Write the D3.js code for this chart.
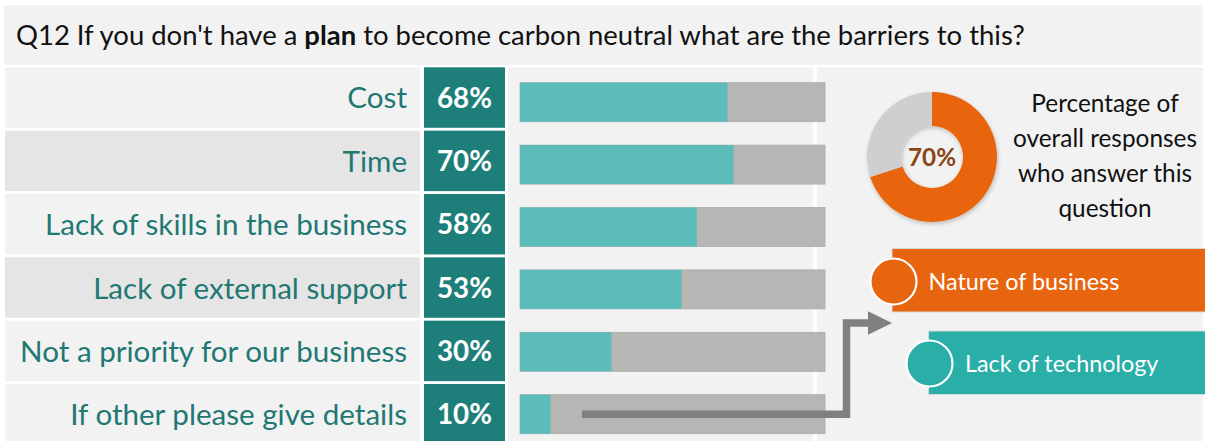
<!DOCTYPE html>
<html>
<head>
<meta charset="utf-8">
<script src="https://cdn.jsdelivr.net/npm/d3@7"></script>
<style>
  html, body { margin: 0; padding: 0; background: #ffffff; }
  svg { display: block; font-family: "Lato", "Open Sans", sans-serif; }
</style>
</head>
<body>
<div id="chart"></div>
<script>
// ---------- data ----------
const categories = [
  "Cost",
  "Time",
  "Lack of skills in the business",
  "Lack of external support",
  "Not a priority for our business",
  "If other please give details"
];
const values = [68, 70, 58, 53, 30, 10];
const titleParts = [
  { text: "Q12 If you don't have a ", bold: false },
  { text: "plan", bold: true },
  { text: " to become carbon neutral what are the barriers to this?", bold: false }
];
const answeredLabels = ["Answered", "Not answered"];
const answeredValues = [70, 30];
const captionLines = ["Percentage of", "overall responses", "who answer this", "question"];
const otherResponses = ["Nature of business", "Lack of technology"];

// ---------- styles ----------
const W = 1205, H = 441;
const C = {
  panel: "#f2f2f2",
  panelDark: "#e5e5e5",
  pctCell: "#1e7f7a",
  labelText: "#1f7872",
  teal: "#5bbcb9",
  grey: "#b7b6b4",
  connector: "#808080",
  orange: "#e8650f",
  donutGrey: "#d0cfd0",
  donutText: "#8a4515",
  legendTeal: "#29aea8"
};

const svg = d3.select("#chart").append("svg")
  .attr("width", W).attr("height", H);

const defs = svg.append("defs");
const sh = defs.append("filter").attr("id", "shadow")
  .attr("x", "-20%").attr("y", "-20%").attr("width", "140%").attr("height", "140%");
sh.append("feDropShadow").attr("dx", 1).attr("dy", 2).attr("stdDeviation", 2)
  .attr("flood-color", "#000").attr("flood-opacity", 0.22);

function fitWidth(sel, target) {
  const w = sel.node().getComputedTextLength();
  const fs = parseFloat(sel.attr("font-size"));
  const nfs = fs * target / w;
  sel.attr("font-size", nfs);
  return nfs;
}

// ---------- title ----------
svg.append("rect").attr("x", 4).attr("y", 5).attr("width", 1199).attr("height", 60).attr("fill", C.panel);
const title = svg.append("text").attr("x", 16).attr("y", 45)
  .attr("font-size", 22).attr("fill", "#111");
title.selectAll("tspan").data(titleParts).join("tspan")
  .attr("font-weight", d => d.bold ? "bold" : "normal")
  .text(d => d.text);
fitWidth(title, 1009);

// ---------- scales ----------
const rowY = d3.scaleBand().domain(categories).range([67.3, 444.5]).paddingInner(0.045).paddingOuter(0);
const barY = d3.scaleBand().domain(categories).range([82.7, 433.7]).paddingInner(0.375).paddingOuter(0);
const x = d3.scaleLinear().domain([0, 100]).range([520, 825]);

// ---------- panels ----------
svg.append("rect").attr("x", 508).attr("y", 67.3).attr("width", 305).attr("height", H - 67.3).attr("fill", C.panel);
svg.append("rect").attr("x", 817).attr("y", 67.3).attr("width", 386).attr("height", H - 67.3).attr("fill", C.panel);

// label cells
const rows = svg.append("g").selectAll("g").data(categories).join("g");
rows.append("rect")
  .attr("x", 5).attr("y", d => rowY(d)).attr("width", 415).attr("height", rowY.bandwidth())
  .attr("fill", (d, i) => (i === 1 || i === 3) ? C.panelDark : C.panel);
rows.append("rect")
  .attr("x", 424).attr("y", d => rowY(d)).attr("width", 81).attr("height", rowY.bandwidth())
  .attr("fill", C.pctCell);

const labels = rows.append("text")
  .attr("x", 407).attr("text-anchor", "end")
  .attr("fill", C.labelText).attr("font-size", 26)
  .text(d => d);
const probe = labels.filter((d, i) => i === 4);
const lfs = fitWidth(probe, 387);
labels.attr("font-size", lfs)
  .attr("y", d => rowY(d) + rowY.bandwidth() / 2 + lfs * 0.37);

const pctText = rows.append("text")
  .attr("x", 464.5).attr("text-anchor", "middle")
  .attr("fill", "#ffffff").attr("font-weight", "bold").attr("font-size", 28)
  .text((d, i) => values[i] + "%");
const pfs = fitWidth(pctText.filter((d, i) => i === 0), 55);
pctText.attr("font-size", pfs)
  .attr("y", d => rowY(d) + rowY.bandwidth() / 2 + pfs * 0.36);

// ---------- bars ----------
const bars = svg.append("g").selectAll("g").data(categories).join("g");
bars.append("rect")
  .attr("x", x(0)).attr("y", d => barY(d))
  .attr("width", x(100) - x(0)).attr("height", barY.bandwidth())
  .attr("fill", C.grey).attr("stroke", "#acabaa").attr("stroke-width", 0.8);
bars.append("rect")
  .attr("x", x(0)).attr("y", d => barY(d))
  .attr("width", (d, i) => x(values[i]) - x(0)).attr("height", barY.bandwidth())
  .attr("fill", C.teal);

// ---------- connector arrow ----------
const last = categories[categories.length - 1];
const cy0 = barY(last) + barY.bandwidth() / 2;
const elbowX = 846.5, topY = 323;
svg.append("path")
  .attr("d", `M${x(20.3)},${cy0} H${elbowX} V${topY} H${869}`)
  .attr("fill", "none").attr("stroke", C.connector).attr("stroke-width", 7.5)
  .attr("stroke-linejoin", "miter");
svg.append("path")
  .attr("d", `M868,${topY - 11.7} L892,${topY} L868,${topY + 11.7} Z`)
  .attr("fill", C.connector);

// ---------- donut ----------
const pie = d3.pie().sort(null)(answeredValues);
const arc = d3.arc().innerRadius(31).outerRadius(65);
const dg = svg.append("g").attr("transform", "translate(932,157)");
dg.append("g").attr("filter", "url(#shadow)")
  .selectAll("path").data(pie).join("path")
  .attr("d", arc)
  .attr("fill", (d, i) => i === 0 ? C.orange : C.donutGrey);
const dt = dg.append("text").attr("text-anchor", "middle")
  .attr("font-weight", "bold").attr("font-size", 24).attr("fill", C.donutText)
  .text(answeredValues[0] + "%");
const dfs = fitWidth(dt, 48);
dt.attr("y", dfs * 0.36);

// caption
const cap = svg.append("g").selectAll("text").data(captionLines).join("text")
  .attr("x", 1105).attr("text-anchor", "middle")
  .attr("fill", "#111").attr("font-size", 22)
  .text(d => d);
const cfs = fitWidth(cap.filter((d, i) => i === 1), 184);
cap.attr("font-size", cfs)
  .attr("y", (d, i) => 103 + i * 35 + cfs * 0.36);

// ---------- other responses legend ----------
const legendPos = [
  { x: 892, y: 248.5, h: 63.5, cx: 893.5, cy: 281.5, tx: 928.5 },
  { x: 928.5, y: 331, h: 63.5, cx: 929.5, cy: 363.5, tx: 965 }
];
const legColors = [C.orange, C.legendTeal];
const lg = svg.append("g").selectAll("g").data(otherResponses).join("g");
lg.append("rect")
  .attr("x", (d, i) => legendPos[i].x).attr("y", (d, i) => legendPos[i].y)
  .attr("width", (d, i) => W + 2 - legendPos[i].x).attr("height", (d, i) => legendPos[i].h)
  .attr("fill", (d, i) => legColors[i])
  .attr("stroke", "#d9d9d9").attr("stroke-width", 1);
lg.append("circle")
  .attr("cx", (d, i) => legendPos[i].cx).attr("cy", (d, i) => legendPos[i].cy)
  .attr("r", 23).attr("fill", (d, i) => legColors[i])
  .attr("stroke", "#ffffff").attr("stroke-width", 2.2);
const lt = lg.append("text")
  .attr("x", (d, i) => legendPos[i].tx)
  .attr("fill", "#ffffff").attr("font-size", 20)
  .text(d => d);
const lgfs = fitWidth(lt.filter((d, i) => i === 0), 191);
lt.attr("font-size", lgfs)
  .attr("y", (d, i) => legendPos[i].cy + lgfs * 0.36);
</script>
</body>
</html>
